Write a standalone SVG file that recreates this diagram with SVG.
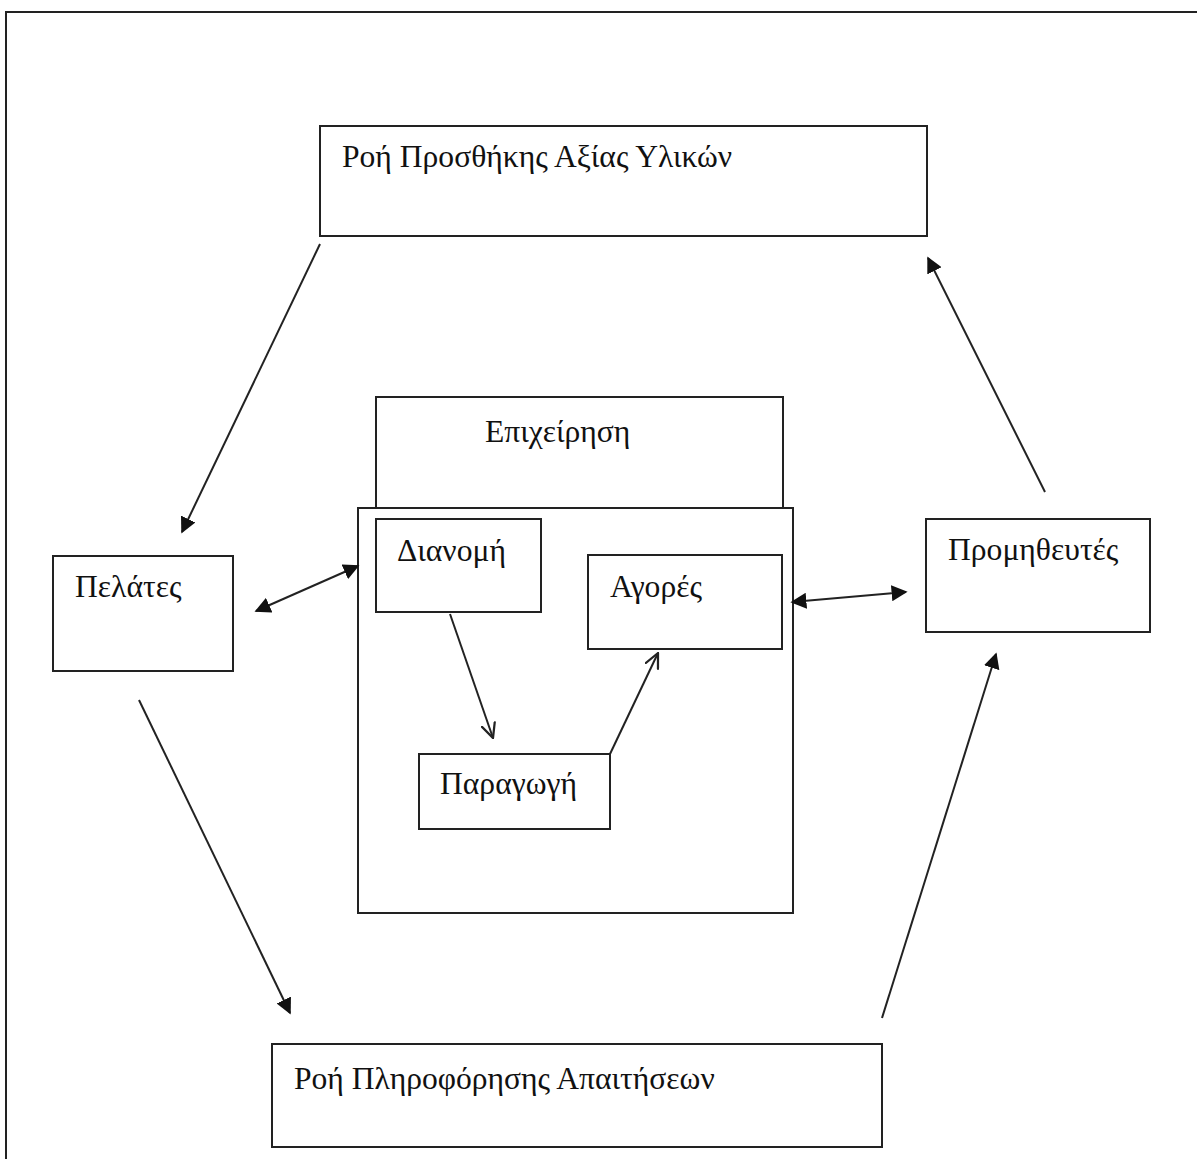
<svg xmlns="http://www.w3.org/2000/svg" width="1197" height="1159" viewBox="0 0 1197 1159">
<style>
.box{fill:none;stroke:#222;stroke-width:2}
.t{font-family:"Liberation Serif","DejaVu Serif",serif;font-size:31.6px;fill:#111}
.c{stroke:#222;stroke-width:2;fill:none}
</style>
<defs>
<marker id="fa" viewBox="0 0 10 10" refX="9" refY="5" markerWidth="16" markerHeight="16" markerUnits="userSpaceOnUse" orient="auto-start-reverse"><path d="M0,0 L10,5 L0,10 z" fill="#111"/></marker>
<marker id="oa" viewBox="0 0 10 10" refX="9.5" refY="5" markerWidth="16" markerHeight="16" markerUnits="userSpaceOnUse" orient="auto"><path d="M0,0.5 L9.5,5 L0,9.5" fill="none" stroke="#222" stroke-width="1.4"/></marker>
</defs>
<rect width="1197" height="1159" fill="#fff"/>
<path d="M6,1159 V12 H1197" class="c"/>
<g id="top"><rect class="box" x="320" y="126" width="607" height="110"/><text class="t" x="342" y="167">Ροή Προσθήκης Αξίας Υλικών</text></g>
<g id="epix"><rect class="box" x="376" y="397" width="407" height="111"/><text class="t" x="485" y="442">Επιχείρηση</text></g>
<g id="big"><rect class="box" x="358" y="508" width="435" height="405"/></g>
<g id="dianomi"><rect class="box" x="376" y="519" width="165" height="93"/><text class="t" x="397" y="561">Διανομή</text></g>
<g id="agores"><rect class="box" x="588" y="555" width="194" height="94"/><text class="t" x="610" y="597">Αγορές</text></g>
<g id="paragogi"><rect class="box" x="419" y="754" width="191" height="75"/><text class="t" x="440" y="794">Παραγωγή</text></g>
<g id="pelates"><rect class="box" x="53" y="556" width="180" height="115"/><text class="t" x="75" y="597">Πελάτες</text></g>
<g id="promitheftes"><rect class="box" x="926" y="519" width="224" height="113"/><text class="t" x="948" y="560">Προμηθευτές</text></g>
<g id="bottom"><rect class="box" x="272" y="1044" width="610" height="103"/><text class="t" x="294" y="1089">Ροή Πληροφόρησης Απαιτήσεων</text></g>
<g id="connectors">
<line class="c" x1="320" y1="244" x2="182" y2="532" marker-end="url(#fa)"/>
<line class="c" x1="256" y1="611" x2="358" y2="566" marker-start="url(#fa)" marker-end="url(#fa)"/>
<line class="c" x1="792" y1="602" x2="906" y2="592" marker-start="url(#fa)" marker-end="url(#fa)"/>
<line class="c" x1="450" y1="614" x2="493" y2="738" marker-end="url(#oa)"/>
<line class="c" x1="610" y1="754" x2="658" y2="653" marker-end="url(#oa)"/>
<line class="c" x1="139" y1="700" x2="290" y2="1013" marker-end="url(#fa)"/>
<line class="c" x1="882" y1="1018" x2="996" y2="654" marker-end="url(#fa)"/>
<line class="c" x1="1045" y1="492" x2="928" y2="258" marker-end="url(#fa)"/>
</g>
</svg>
